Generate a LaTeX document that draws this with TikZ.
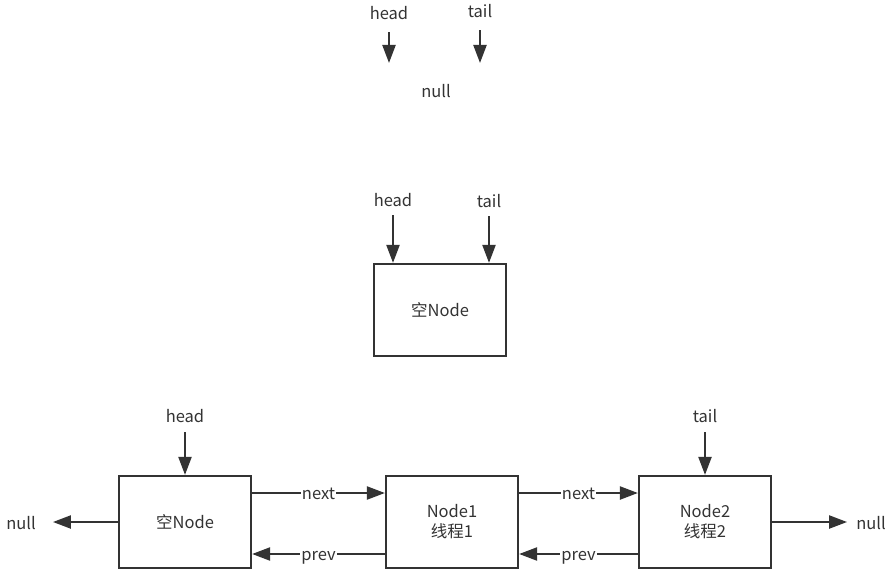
\documentclass[tikz,border=0pt]{standalone}
\usepackage{fontspec}
\setmainfont{Noto Sans CJK SC}
\usetikzlibrary{arrows.meta,positioning}
\definecolor{ink}{HTML}{333333}
\tikzset{
  box/.style={draw=ink,line width=2.2pt,minimum width=132pt,minimum height=92pt,
    align=center,text=ink,font=\fontsize{16.5}{20}\selectfont},
  lbl/.style={text=ink,font=\fontsize{16.5}{20}\selectfont,inner sep=1pt,
    text height=12pt,text depth=4pt},
  tag/.style={lbl,fill=white},
  arr/.style={draw=ink,line width=2.2pt,-{Triangle[length=18pt,width=13pt]}},
}
\begin{document}
\begin{tikzpicture}[x=1pt,y=-1pt]
\useasboundingbox (0,0) rectangle (896,578);

% empty list
\node[lbl] (head0) at (389,16) {head};
\node[lbl] (tail0) at (480,14) {tail};
\node[lbl] (null0) at (436,93) {null};
\coordinate (h0) at (389,63);
\coordinate (t0) at (480,63);
\draw[arr,shorten <=7pt] (head0) -- (h0);
\draw[arr,shorten <=7pt] (tail0) -- (t0);

% one empty node
\node[box] (mid) at (440,310) {空Node};
\node[lbl] (head1) at (393,202) {head};
\node[lbl] (tail1) at (489,203) {tail};
\draw[arr,shorten <=4pt] (head1) -- (head1 |- mid.north);
\draw[arr,shorten <=4pt] (tail1) -- (tail1 |- mid.north);

% two threads queued
\node[box] (n0) at (185,522) {空Node};
\node[box] (n1) at (452,522) {Node1\\线程1};
\node[box] (n2) at (705,522) {Node2\\线程2};
\node[lbl] (head2) at (185,418) {head};
\node[lbl] (tail2) at (705,418) {tail};
\node[lbl] (nullL) at (21,525) {null};
\node[lbl] (nullR) at (871,525) {null};
\draw[arr,shorten <=5pt] (head2) -- (n0);
\draw[arr,shorten <=5pt] (tail2) -- (n2);

\draw[arr] ([yshift=29pt]n0.east) -- node[tag,yshift=-2pt]{next} ([yshift=29pt]n1.west);
\draw[arr] ([yshift=-32pt]n1.west) -- node[tag,yshift=-2pt]{prev} ([yshift=-32pt]n0.east);
\draw[arr] ([yshift=29pt]n1.east) -- node[tag,yshift=-2pt]{next} ([yshift=29pt]n2.west);
\draw[arr] ([yshift=-32pt]n2.west) -- node[tag,yshift=-2pt]{prev} ([yshift=-32pt]n1.east);

\draw[arr] (n0.west) -- ([xshift=16pt]nullL.east |- n0.west);
\draw[arr] (n2.east) -- ([xshift=-8pt]nullR.west |- n2.east);
\end{tikzpicture}
\end{document}
